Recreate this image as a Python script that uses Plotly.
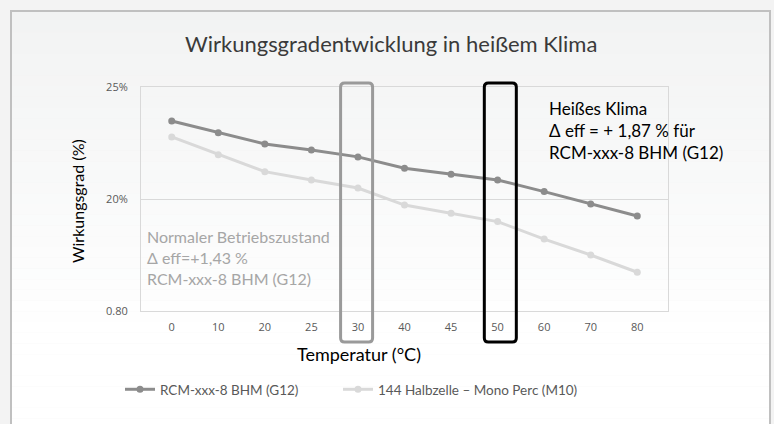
import plotly.graph_objects as go

temps = ["0", "10", "20", "25", "30", "40", "45", "50", "60", "70", "80"]
rcm_g12 = [23.48, 22.96, 22.46, 22.19, 21.88, 21.37, 21.10, 20.85, 20.33, 19.78, 19.24]
mono_m10 = [22.77, 21.98, 21.22, 20.85, 20.49, 19.73, 19.36, 18.99, 18.21, 17.50, 16.73]
name_g12 = "RCM-xxx-8 BHM (G12)"
name_m10 = "144 Halbzelle – Mono Perc (M10)"
y_tickvals = [15, 20, 25]
y_ticktext = ["0.80", "20%", "25%"]
highlight_normal = "30"
highlight_hot = "50"

W, H = 774, 424
L, R, T, B = 141, 106, 87, 113
PW, PH = W - L - R, H - T - B

def px_x(p):
    return (p - L) / PW

def px_y(p):
    return (H - B - p) / PH

font_main = "Lato, 'Open Sans', sans-serif"

fig = go.Figure()
fig.add_trace(go.Scatter(x=temps, y=rcm_g12, name=name_g12, mode="lines+markers",
                         line=dict(color="#8c8c8c", width=3),
                         marker=dict(color="#8c8c8c", size=7), legend="legend"))
fig.add_trace(go.Scatter(x=temps, y=mono_m10, name=name_m10, mode="lines+markers",
                         line=dict(color="#d9d9d9", width=3),
                         marker=dict(color="#d9d9d9", size=7), legend="legend2"))

shapes = []
# card gradient background
n = 40
top_px, bot_px = 11, 440
for k in range(n):
    y0p = top_px + (bot_px - top_px) * k / n
    y1p = top_px + (bot_px - top_px) * (k + 1) / n
    t = min(1.0, k / (n * 0.75))
    c = [int(round(a + (255 - a) * t)) for a in (242, 243, 243)]
    shapes.append(dict(type="rect", xref="paper", yref="paper", layer="below",
                       x0=px_x(11), x1=px_x(770), y0=px_y(y1p), y1=px_y(y0p),
                       fillcolor=f"rgb({c[0]},{c[1]},{c[2]})", line=dict(width=0)))
shapes.append(dict(type="rect", xref="paper", yref="paper", layer="below",
                   x0=px_x(11), x1=px_x(770), y0=px_y(440), y1=px_y(11),
                   fillcolor="rgba(0,0,0,0)", line=dict(color="#c0c0c0", width=2)))

def rounded_box(cat, color):
    i = temps.index(cat)
    n_cat = len(temps)
    cx = (i + 0.5) / n_cat
    hw = 16 / PW
    x0, x1 = cx - hw, cx + hw
    y1 = (H - B - 83) / PH
    y0 = (H - B - 342) / PH
    rx, ry = 4 / PW, 4 / PH
    path = (f"M {x0+rx},{y1} L {x1-rx},{y1} Q {x1},{y1} {x1},{y1-ry} "
            f"L {x1},{y0+ry} Q {x1},{y0} {x1-rx},{y0} L {x0+rx},{y0} "
            f"Q {x0},{y0} {x0},{y0+ry} L {x0},{y1-ry} Q {x0},{y1} {x0+rx},{y1} Z")
    return dict(type="path", xref="x domain", yref="y domain", path=path,
                line=dict(color=color, width=3), layer="above")

shapes.append(rounded_box(highlight_normal, "#9a9a9a"))
shapes.append(rounded_box(highlight_hot, "#000000"))

annotations = [
    dict(text="Wirkungsgradentwicklung in heißem Klima", xref="paper", yref="paper",
         x=px_x(391), y=px_y(43), showarrow=False, xanchor="center", yanchor="middle",
         font=dict(family=font_main, size=22, color="#3a3a3a")),
    dict(text="Temperatur (°C)", xref="paper", yref="paper",
         x=px_x(359), y=px_y(354), showarrow=False, xanchor="center", yanchor="middle",
         font=dict(family=font_main, size=18, color="#000000")),
    dict(text="Wirkungsgrad (%)", xref="paper", yref="paper", textangle=-90,
         x=px_x(77), y=px_y(201), showarrow=False, xanchor="center", yanchor="middle",
         font=dict(family=font_main, size=16, color="#000000")),
    dict(text="Normaler Betriebszustand<br>Δ eff=+1,43 %<br>RCM-xxx-8 BHM (G12)",
         xref="paper", yref="paper", x=px_x(145), y=px_y(257), align="left",
         showarrow=False, xanchor="left", yanchor="middle",
         font=dict(family=font_main, size=16, color="#a6a6a6")),
    dict(text="Heißes Klima<br>Δ eff = + 1,87 % für<br>RCM-xxx-8 BHM (G12)",
         xref="paper", yref="paper", x=px_x(547), y=px_y(130), align="left",
         showarrow=False, xanchor="left", yanchor="middle",
         font=dict(family=font_main, size=17, color="#000000")),
]

legend_font = dict(family=font_main, size=13.5, color="#595959")

fig.update_layout(
    width=W, height=H,
    margin=dict(l=L, r=R, t=T, b=B),
    paper_bgcolor="#f3f3f3",
    plot_bgcolor="rgba(0,0,0,0)",
    shapes=shapes,
    annotations=annotations,
    showlegend=True,
    legend=dict(orientation="h", x=px_x(120), y=px_y(374), xanchor="left", yanchor="top",
                bgcolor="rgba(0,0,0,0)", font=legend_font),
    legend2=dict(orientation="h", x=px_x(338), y=px_y(374), xanchor="left", yanchor="top",
                 bgcolor="rgba(0,0,0,0)", font=legend_font),
    xaxis=dict(type="category", showgrid=False, showline=True, mirror=True,
               linecolor="#d9d9d9", linewidth=1, ticks="", ticklabelstandoff=6,
               tickfont=dict(family="'Open Sans', sans-serif", size=11, color="#595959")),
    yaxis=dict(range=[15, 25], tickvals=y_tickvals, ticktext=y_ticktext,
               showgrid=True, gridcolor="#d9d9d9", gridwidth=1, zeroline=False,
               showline=True, mirror=True, linecolor="#d9d9d9", linewidth=1,
               ticks="", ticklabelstandoff=10,
               tickfont=dict(family="'Open Sans', sans-serif", size=11, color="#595959")),
)

fig.write_html("out.html",
               config={"displayModeBar": False},
               post_script="document.body.style.margin='0';"
                           "document.body.style.background='#f3f3f3';"
                           "document.body.style.overflow='hidden';")
